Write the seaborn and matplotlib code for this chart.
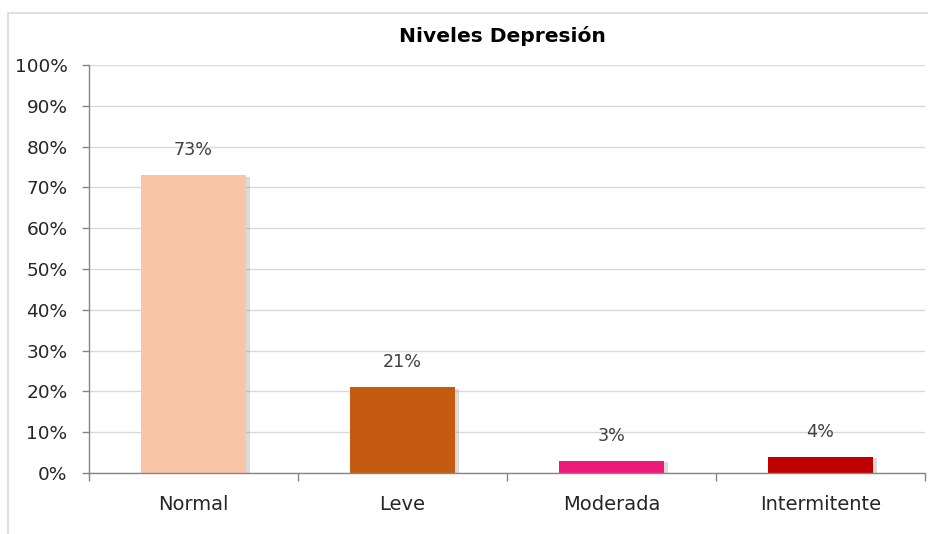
import matplotlib
matplotlib.use("Agg")
import matplotlib.pyplot as plt
import matplotlib.patheffects as pe
from matplotlib.lines import Line2D
from matplotlib.ticker import PercentFormatter, FixedLocator
import seaborn as sns
import pandas as pd

# Survey results: share of respondents per depression level
categories = ["Normal", "Leve", "Moderada", "Intermitente"]
shares = [0.73, 0.21, 0.03, 0.04]
bar_colors = ["#F8C6A6", "#C55A11", "#EE1A7A", "#C00000"]
title = "Niveles Depresión"

df = pd.DataFrame({"nivel": categories, "porcentaje": shares})

sns.set_theme(style="white")
plt.rcParams["font.family"] = ["DejaVu Sans"]

W, H = 929, 534
fig = plt.figure(figsize=(W / 100, H / 100), dpi=100)
ax = fig.add_axes([89 / W, 1 - 473 / H, (925 - 89) / W, (473 - 65) / H])

sns.barplot(data=df, x="nivel", y="porcentaje", hue="nivel",
            palette=bar_colors, width=0.5, legend=False, ax=ax,
            edgecolor="none", saturation=1)

# soft drop shadow to the right of each bar
for bar in ax.patches:
    bar.set_path_effects([pe.SimplePatchShadow(offset=(3, -1), shadow_rgbFace="#8a8a8a",
                                               alpha=0.3), pe.Normal()])

ax.set_ylim(0, 1.0)
ax.set_xlim(-0.5, len(categories) - 0.5)
ax.set_yticks([i / 10 for i in range(11)])
ax.yaxis.set_major_formatter(PercentFormatter(1.0, decimals=0))
ax.grid(axis="y", color="#D9D9D9", linewidth=1.0)
ax.set_axisbelow(True)

for side in ["top", "right"]:
    ax.spines[side].set_visible(False)
for side in ["left", "bottom"]:
    ax.spines[side].set_color("#868686")
    ax.spines[side].set_linewidth(1.0)

ax.tick_params(axis="y", left=True, length=5, width=1, color="#868686",
               labelsize=13.3, labelcolor="#262626", pad=10.5)
ax.tick_params(axis="x", bottom=False, labelsize=14, labelcolor="#262626", pad=10)
ax.xaxis.set_minor_locator(FixedLocator([i - 0.5 for i in range(len(categories) + 1)]))
ax.tick_params(axis="x", which="minor", bottom=True, length=6, width=1, color="#868686")
ax.set_xlabel("")
ax.set_ylabel("")

for i, v in enumerate(shares):
    ax.annotate(f"{v:.0%}", xy=(i, v), xytext=(0, 25), textcoords="offset pixels",
                ha="center", va="center", fontsize=12.6, color="#404040")

fig.text(502 / W, 1 - 36 / H, title, ha="center", va="center",
         fontsize=14.6, fontweight="bold", color="#000000")

# outer chart frame
fig.add_artist(Line2D([8 / W, 1], [1 - 13 / H, 1 - 13 / H], transform=fig.transFigure,
                      color="#D9D9D9", linewidth=1.2))
fig.add_artist(Line2D([8 / W, 8 / W], [0, 1 - 13 / H], transform=fig.transFigure,
                      color="#D9D9D9", linewidth=1.2))

fig.savefig("out.png", dpi=100, facecolor="white")
